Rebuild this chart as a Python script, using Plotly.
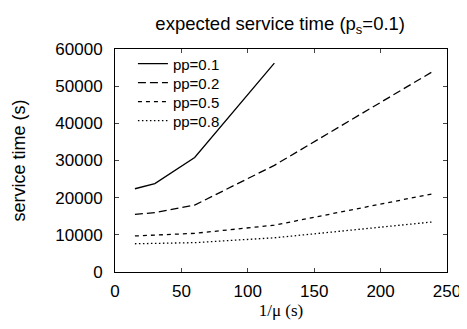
import plotly.graph_objects as go

x_short = [15, 30, 60, 120]
x_long = [15, 30, 60, 120, 240]
pp01 = [22400, 23800, 30800, 56200]
pp02 = [15500, 16000, 18000, 28700, 54100]
pp05 = [9700, 9900, 10400, 12600, 21100]
pp08 = [7600, 7700, 7900, 9200, 13500]

series = [
    ("pp=0.1", x_short, pp01, "solid"),
    ("pp=0.2", x_long, pp02, "8px,4px"),
    ("pp=0.5", x_long, pp05, "4px,4px"),
    ("pp=0.8", x_long, pp08, "1.5px,2.5px"),
]

# page body has an 8px margin; compensate so the plot sits where the reference has it
W, H = 459, 321

fig = go.Figure()
legend_layouts = {}
for i, (name, xs, ys, dash) in enumerate(series):
    lname = "legend" if i == 0 else f"legend{i+1}"
    fig.add_trace(go.Scatter(x=xs, y=ys, mode="lines", name=name, legend=lname,
                             line=dict(color="black", width=1.3, dash=dash)))
    legend_layouts[lname] = dict(x=0.054, y=1.007 - 0.0852 * i, xanchor="left", yanchor="top",
                                 bgcolor="rgba(0,0,0,0)", font=dict(size=15), itemwidth=30)

font = "Liberation Sans, Arial, sans-serif"
fig.update_layout(
    width=W, height=H,
    margin=dict(l=107, r=20, t=41, b=57, autoexpand=False),
    paper_bgcolor="white", plot_bgcolor="white",
    font=dict(family=font, size=17, color="black"),
    title=dict(text="expected service time (p<sub>s</sub>=0.1)", x=0.593, xref="container",
               xanchor="center", y=0.972, yanchor="top", font=dict(size=18.5)),
    showlegend=True,
    xaxis=dict(range=[0, 250], tickvals=[0, 50, 100, 150, 200, 250],
               ticks="inside", ticklen=4, mirror="allticks", showline=True,
               linecolor="black", linewidth=1, showgrid=False, zeroline=False,
               automargin=False, ticklabelstandoff=4,
               title=dict(text="1/μ (s)", font=dict(family="Liberation Serif, Times New Roman, serif", size=17),
                          standoff=3)),
    yaxis=dict(range=[0, 60000], tickvals=[0, 10000, 20000, 30000, 40000, 50000, 60000],
               tickformat="d", ticks="inside", ticklen=4, mirror="allticks", showline=True,
               linecolor="black", linewidth=1, showgrid=False, zeroline=False,
               automargin=False, ticklabelstandoff=8,
               title=dict(text="service time (s)", font=dict(size=18), standoff=25)),
    **legend_layouts,
)

fig.write_html("out.html")
